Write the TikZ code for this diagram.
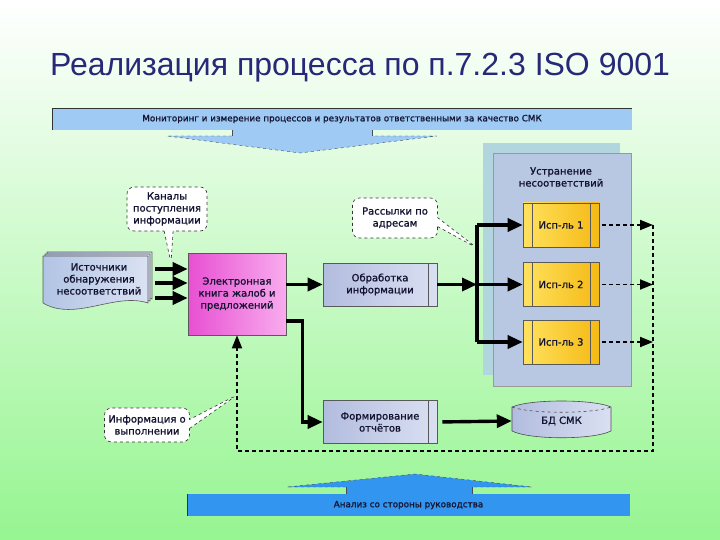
\documentclass[tikz,border=0pt]{standalone}
\usepackage{fontspec}
\setmainfont{Liberation Sans}
\newfontfamily\diafont[FakeBold=1.2]{DejaVu Sans}
\usepackage{tikz}
\usetikzlibrary{arrows.meta,shapes.callouts}

\definecolor{bggreen}{RGB}{150,245,145}
\definecolor{titlecol}{RGB}{40,40,120}
\definecolor{txtcol}{RGB}{20,20,50}
\definecolor{bannerlight}{RGB}{158,202,244}
\definecolor{bannerdark}{RGB}{50,150,240}
\definecolor{panelback}{RGB}{178,214,222}
\definecolor{panelfront}{RGB}{185,200,226}
\definecolor{procL}{RGB}{178,188,222}
\definecolor{procR}{RGB}{218,224,242}
\definecolor{pinkL}{RGB}{232,80,210}
\definecolor{pinkR}{RGB}{248,172,238}
\definecolor{goldL}{RGB}{255,226,95}
\definecolor{goldR}{RGB}{245,185,20}
\definecolor{docL}{RGB}{178,196,228}
\definecolor{docR}{RGB}{218,226,242}

\begin{document}
\begin{tikzpicture}[x=1pt,y=-1pt,
    lbl/.style={font=\diafont\fontsize{10}{12}\selectfont,text=txtcol,align=center},
    box/.style={lbl,rectangle,draw=black!65,line width=0.6pt},
    procbox/.style={box,left color=procL,right color=procR,minimum width=114pt,minimum height=43pt},
    ispbox/.style={box,left color=goldL,right color=goldR,minimum width=76pt,minimum height=44pt},
    banner/.style={lbl,rectangle,font=\diafont\fontsize{8.8}{10}\selectfont,minimum height=22pt},
    note/.style={lbl,rectangle callout,rounded corners=7pt,draw=black!80,dashed,
                 line width=0.6pt,fill=white,callout pointer width=9pt},
    flow/.style={line width=3.4pt,-{Triangle[length=15pt,width=13pt]}},
    trunk/.style={line width=3.4pt},
    ret/.style={dash pattern=on 4pt off 3pt,line width=1.8pt,-{Triangle[length=13pt,width=10pt]}}]

    % background and title
    \shade[top color=white,bottom color=bggreen] (0,0) rectangle (720,540);
    \node[font=\fontsize{32}{38}\selectfont,text=titlecol] (title) at (360,68) {Реализация процесса по п.7.2.3 ISO 9001};

    % top banner with its arrow
    \fill[bannerlight] (232,130) -- (232,136) -- (167,136) -- (300,153) -- (437,136) -- (372,136) -- (372,130) -- cycle;
    \draw[black!70,dashed,thin] (232,136) -- (167,136) -- (300,153) -- (437,136) -- (372,136);
    \draw[black!70,thin] (232,130) -- (232,136) (372,130) -- (372,136);
    \node[banner,fill=bannerlight,minimum width=580pt] (mon) at (342,119) {Мониторинг и измерение процессов и результатов ответственными за качество СМК};
    \draw[black!80,thin] (mon.south west) -- (mon.north west) -- (mon.north east);

    % bottom banner with its arrow
    \fill[bannerdark] (346,494) -- (346,487) -- (287,487) -- (415,474) -- (532,487) -- (472,487) -- (472,494) -- cycle;
    \draw[black!70,dashed,thin] (346,487) -- (287,487) -- (415,474) -- (532,487) -- (472,487);
    \draw[black!70,thin] (346,494) -- (346,487) (472,494) -- (472,487);
    \node[banner,fill=bannerdark,minimum width=443pt] (an) at (408.5,505) {Анализ со стороны руководства};
    \draw[black!80,thin] (an.south west) -- (an.north west);

    % panel of the executors
    \fill[panelback] (483,143) rectangle (620,375);
    \draw[black!40,fill=panelfront] (493,153) rectangle (631,386);
    \node[lbl] (fix) at (561,177) {Устранение\\несоответствий};

    % stacked documents
    \foreach \d in {4,2,0}
        \draw[black!65,line width=0.6pt,left color=docL,right color=docR,shift={(\d,-\d)}]
            (43,256) -- (148,256) -- (148,303) .. controls (115,292) and (75,322) .. (43,303) -- cycle;
    \node[lbl,minimum width=112pt] (src) at (99,279) {Источники\\обнаружения\\несоответствий};

    % blocks
    \node[box,left color=pinkL,right color=pinkR,minimum width=98pt,minimum height=82pt] (book) at (237,294) {Электронная\\книга жалоб и\\предложений};
    \node[procbox] (obr) at (380,284.5) {Обработка\\информации};
    \node[procbox] (rep) at (380,422) {Формирование\\отчётов};
    \foreach \i/\y in {1/225,2/284.5,3/342}
        \node[ispbox] (isp\i) at (561,\y) {Исп-ль \i};
    \foreach \n in {obr,rep}
        \draw[black!65,line width=0.6pt] ([xshift=-9pt]\n.north east) -- ([xshift=-9pt]\n.south east);
    \foreach \i in {1,2,3}
        \draw[black!65,line width=0.6pt] ([xshift=10pt]isp\i.north west) -- ([xshift=10pt]isp\i.south west)
                                         ([xshift=-9pt]isp\i.north east) -- ([xshift=-9pt]isp\i.south east);

    % database
    \draw[black!70,line width=0.6pt,left color=procL,right color=procR]
        (512,407) .. controls (530,399) and (593,399) .. (611,407) -- (611,431)
        .. controls (593,440) and (530,440) .. (512,431) -- cycle;
    \draw[black!70,dashed,line width=0.6pt] (512,407) .. controls (530,414) and (593,414) .. (611,407);
    \node[lbl,minimum width=99pt,minimum height=34pt] (bd) at (561.5,421) {БД СМК};

    % callouts
    \coordinate (kanTip) at (171,263);
    \coordinate (rasTip) at (477,248);
    \coordinate (infTip) at (237,395);
    \node[note,minimum width=80pt,minimum height=44pt,callout absolute pointer=(kanTip)] (kan) at (167,209) {Каналы\\поступления\\информации};
    \node[note,minimum width=85pt,minimum height=40pt,callout absolute pointer=(rasTip)] (ras) at (395,218) {Рассылки по\\адресам};
    \node[note,minimum width=85pt,minimum height=34pt,callout absolute pointer=(infTip)] (inf) at (147,425) {Информация о\\выполнении};

    % main flow
    \foreach \y in {269,283,298}
        \draw[flow] (src.east |- 0,\y) -- (book.west |- 0,\y);
    \draw[flow] (book.east |- obr.west) -- (obr.west);
    \coordinate (hub) at (477,284.5);
    \draw[flow] (obr.east) -- (hub);
    \draw[trunk] (hub |- isp1.west) -- (hub |- isp3.west);
    \foreach \i in {1,2,3}
        \draw[flow] (hub |- isp\i.west) -- (isp\i.west);
    \draw[flow] ([yshift=-27pt]book.east) -- ++(16,0) |- (rep.west);
    \draw[flow,shorten <=5pt] (rep.east) -- (bd.west);

    % feedback
    \coordinate (retR) at (653,451);
    \foreach \i in {1,2,3}
        \draw[ret,shorten <=3pt] (isp\i.east) -- (isp\i.east -| retR);
    \draw[ret] (retR |- isp1.east) -- (retR) -| (book.south);
\end{tikzpicture}
\end{document}
